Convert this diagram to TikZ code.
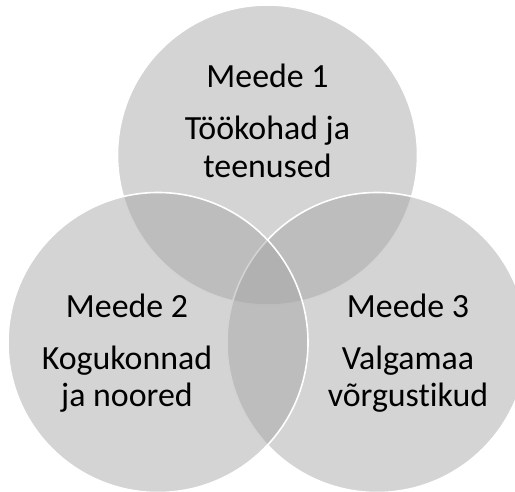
\documentclass[tikz,border=0pt]{standalone}
\usepackage{fontspec}
\setmainfont{Carlito}[Ligatures=NoCommon]
\usepackage{tikz}

\newcommand{\twolines}[2]{\begin{tabular}[t]{@{}c@{}}#1\\#2\end{tabular}}

\begin{document}
\begin{tikzpicture}[
  x=1bp, y=-1bp,
  ring/.style={circle, draw=white, line width=1.6bp, fill=black!36,
               fill opacity=0.47, minimum size=300bp, inner sep=0pt},
  title/.style={anchor=base, inner sep=0pt, font=\fontsize{34}{38}\selectfont},
  body/.style={anchor=base, inner sep=0pt, font=\fontsize{34}{38}\selectfont},
]
  \useasboundingbox (0,0) rectangle (515,492);

  % circles: top first, then right, then left
  \node[ring] (m1) at (267.5,155) {};
  \node[ring] (m3) at (377,342.5) {};
  \node[ring] (m2) at (158,342.5) {};

  \node[title] (t1) at (267.5,88) {Meede 1};
  \node[body] (b1) at (267.5,140) {\twolines{Töökohad ja}{teenused}};

  \node[title] (t2) at (127,317) {Meede 2};
  \node[body] (b2) at (127,369) {\twolines{Kogukonnad}{ja noored}};

  \node[title] (t3) at (408,317) {Meede 3};
  \node[body] (b3) at (408,369) {\twolines{Valgamaa}{võrgustikud}};
\end{tikzpicture}
\end{document}
